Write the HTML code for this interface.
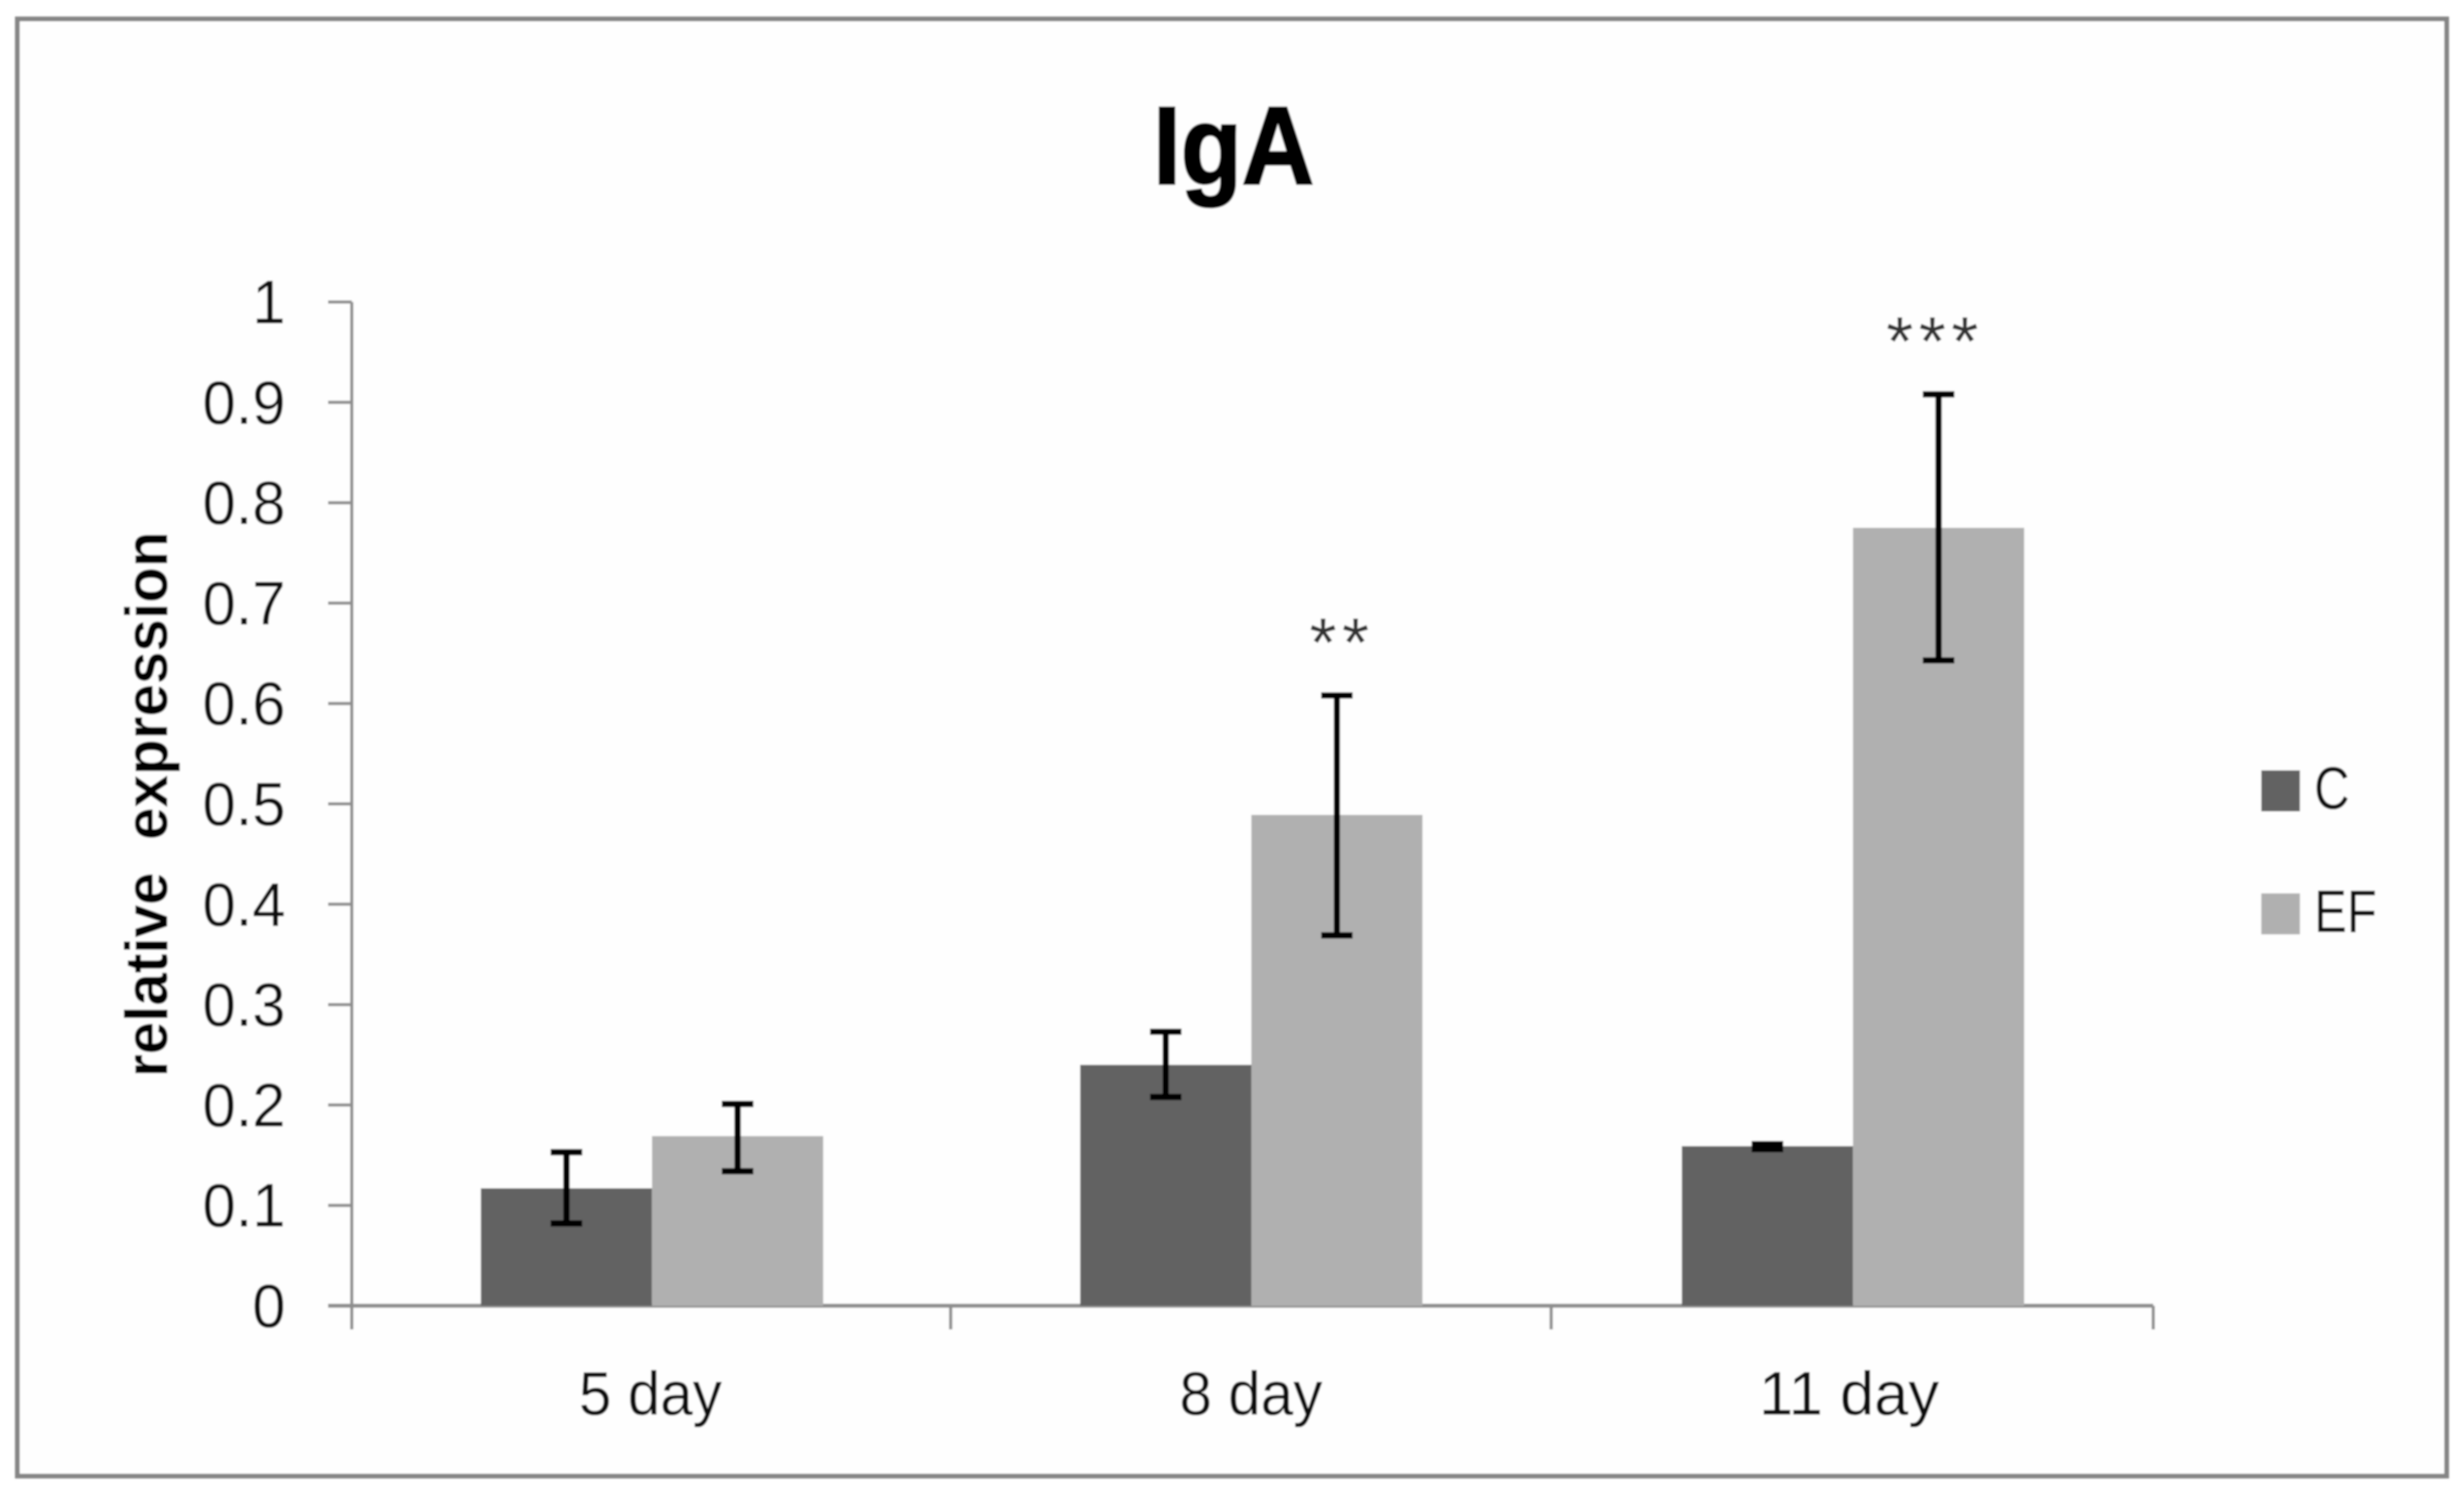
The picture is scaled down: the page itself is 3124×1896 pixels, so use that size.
<!DOCTYPE html>
<html lang="en">
<head>
<meta charset="utf-8">
<title>IgA relative expression</title>
<style>
  html, body { margin: 0; padding: 0; background: #fff; }
  #chart { display: block; width: 3124px; height: 1896px; }
  text { font-family: "Liberation Sans", sans-serif; }
</style>
</head>
<body>
<svg id="chart" xmlns="http://www.w3.org/2000/svg" width="3124" height="1896" viewBox="0 0 3124 1896">
  <defs>
    <filter id="soft" x="-5%" y="-5%" width="110%" height="110%"><feGaussianBlur stdDeviation="1.1"/></filter>
  </defs>
  <rect x="0" y="0" width="3124" height="1896" fill="#ffffff"/>
  <g id="root" filter="url(#soft)">
    <rect x="22" y="24" width="3080" height="1848" fill="#fefefe" stroke="#858585" stroke-width="6"/>
    <text x="1564" y="233" text-anchor="middle" font-size="140" font-weight="bold" fill="#000" stroke="#000" stroke-width="3" textLength="204" lengthAdjust="spacingAndGlyphs">IgA</text>
    <text transform="translate(212 1366) rotate(-90)" font-size="76" font-weight="bold" fill="#000" textLength="692" lengthAdjust="spacingAndGlyphs" style="white-space:pre">relative  expression</text>
    <g id="axes"></g>
    <g id="bars"></g>
    <g id="errors"></g>
    <g id="sig"></g>
    <g id="legend"></g>
  </g>
</svg>
<script>
var categories = ["5 day", "8 day", "11 day"];
var seriesNames = ["C", "EF"];
var valuesC = [0.117, 0.240, 0.159];
var valuesEF = [0.169, 0.489, 0.775];
var errUpperC = [0.153, 0.273, 0.161];
var errLowerC = [0.082, 0.208, 0.156];
var errUpperEF = [0.201, 0.608, 0.908];
var errLowerEF = [0.134, 0.369, 0.643];
var significance = ["", "**", "***"];
var yTicks = [0, 0.1, 0.2, 0.3, 0.4, 0.5, 0.6, 0.7, 0.8, 0.9, 1];

var SVGNS = "http://www.w3.org/2000/svg";
var plotLeft = 446, plotRight = 2730, plotTop = 383, plotBottom = 1656;
var barWidth = 217;
var seriesFill = ["#626262", "#b0b0b0"];
var axisColor = "#8e8e8e";

function yScale(v) { return plotBottom - (v / 1) * (plotBottom - plotTop); }
function xBand(i) { return plotLeft + (i + 0.5) * (plotRight - plotLeft) / categories.length; }

function mk(tag, parent, attrs) {
  var el = document.createElementNS(SVGNS, tag);
  for (var k in attrs) el.setAttribute(k, attrs[k]);
  parent.appendChild(el);
  return el;
}
function condense(el, factor) {
  var len = el.getComputedTextLength();
  el.setAttribute("textLength", (len * factor).toFixed(1));
  el.setAttribute("lengthAdjust", "spacingAndGlyphs");
}

var axes = document.getElementById("axes");
var bars = document.getElementById("bars");
var errors = document.getElementById("errors");
var sig = document.getElementById("sig");
var legend = document.getElementById("legend");

var yAxisLine = mk("line", axes, { x1: plotLeft, x2: plotLeft, y1: plotTop, y2: plotBottom + 30, stroke: axisColor, "stroke-width": 4 });



yTicks.forEach(function (t) {
  var y = yScale(t);
  var tick = mk("line", axes, { x1: plotLeft - 30, x2: plotLeft, y1: y, y2: y, stroke: axisColor, "stroke-width": 4 });
  
  
  var label = mk("text", axes, { x: 362, y: y + 27, "text-anchor": "end", "font-size": 78, fill: "#0e0e0e" });
  label.textContent = String(t);
  
  
  condense(label, 0.97);
});

var xAxisLine = mk("line", axes, { x1: plotLeft - 30, x2: plotRight, y1: plotBottom, y2: plotBottom, stroke: axisColor, "stroke-width": 5 });



for (var b = 1; b <= categories.length; b++) {
  var bx = plotLeft + b * (plotRight - plotLeft) / categories.length - (b < categories.length ? 2 : 0);
  var xTick = mk("line", axes, { x1: bx, x2: bx, y1: plotBottom, y2: plotBottom + 30, stroke: axisColor, "stroke-width": 4 });
  
  
}

categories.forEach(function (cat, i) {
  var label = mk("text", axes, { x: xBand(i) - 2 - (i === 2 ? 3 : 0), y: 1794, "text-anchor": "middle", "font-size": 78, fill: "#0e0e0e" });
  label.textContent = cat;
  
  
  condense(label, i === 2 ? 1.0 : 0.95);
});

function drawSeries(values, upper, lower, seriesIndex) {
  values.forEach(function (v, i) {
    var left = xBand(i) - barWidth + seriesIndex * barWidth - (i === 1 ? 1.5 : 0);
    var top = yScale(v);
    var rect = mk("rect", bars, { x: left, y: top, width: barWidth, height: plotBottom - top, fill: seriesFill[seriesIndex] });
    
    

    var cx = left + barWidth / 2;
    var yU = yScale(upper[i]);
    var yL = yScale(lower[i]);
    var stem = mk("line", errors, { x1: cx, x2: cx, y1: yU, y2: yL, stroke: "#000", "stroke-width": 8 });
    
    
    var capTop = mk("line", errors, { x1: cx - 20, x2: cx + 20, y1: yU, y2: yU, stroke: "#000", "stroke-width": 8 });
    
    
    var capBottom = mk("line", errors, { x1: cx - 20, x2: cx + 20, y1: yL, y2: yL, stroke: "#000", "stroke-width": 8 });
    
    
  });
}
drawSeries(valuesC, errUpperC, errLowerC, 0);
drawSeries(valuesEF, errUpperEF, errLowerEF, 1);

significance.forEach(function (s, i) {
  if (!s) return;
  var dx = s.length === 2 ? 5 : -4.5;
  var t = mk("text", sig, { x: xBand(i) + barWidth / 2 + dx, y: yScale(errUpperEF[i]) - 37, "text-anchor": "middle", "font-size": 88, "letter-spacing": 7, fill: "#333" });
  t.textContent = s;
  
  
});

seriesNames.forEach(function (name, i) {
  var top = 977 + i * 156;
  var swatch = mk("rect", legend, { x: 2867, y: top, width: 49, height: 52, fill: seriesFill[i] });
  
  
  var label = mk("text", legend, { x: 2934, y: top + 49, "font-size": 76, fill: "#0e0e0e" });
  label.textContent = name;
  
  
  condense(label, 0.82);
});
</script>
</body>
</html>
